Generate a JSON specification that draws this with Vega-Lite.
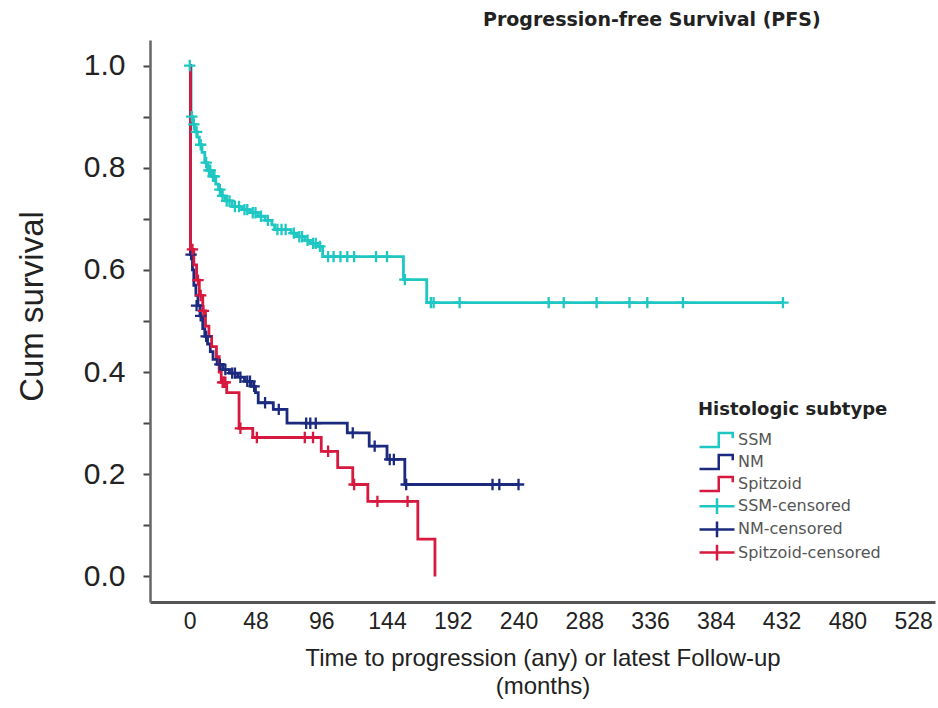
{
  "$schema": "https://vega.github.io/schema/vega-lite/v6.json",
  "width": 785,
  "height": 562,
  "autosize": {"type": "none"},
  "padding": {"left": 150, "top": 40, "right": 3, "bottom": 106},
  "background": "white",
  "config": {"view": {"stroke": null}},
  "title": {
    "text": "Progression-free Survival (PFS)",
    "anchor": "start",
    "frame": "group",
    "dx": 333,
    "dy": 17,
    "font": "DejaVu Sans",
    "fontSize": 19,
    "fontWeight": "bold",
    "color": "#222222",
    "baseline": "alphabetic",
    "offset": 12
  },
  "datasets": {
    "curves": [
      {"series": "SSM", "t": 0, "s": 1.0},
      {"series": "SSM", "t": 1, "s": 0.90},
      {"series": "SSM", "t": 2.5, "s": 0.885},
      {"series": "SSM", "t": 4, "s": 0.87},
      {"series": "SSM", "t": 5.5, "s": 0.86},
      {"series": "SSM", "t": 7, "s": 0.845},
      {"series": "SSM", "t": 9, "s": 0.83},
      {"series": "SSM", "t": 11, "s": 0.81},
      {"series": "SSM", "t": 13, "s": 0.795},
      {"series": "SSM", "t": 16, "s": 0.783},
      {"series": "SSM", "t": 19, "s": 0.768},
      {"series": "SSM", "t": 21, "s": 0.757},
      {"series": "SSM", "t": 23, "s": 0.745},
      {"series": "SSM", "t": 26, "s": 0.735},
      {"series": "SSM", "t": 31, "s": 0.724},
      {"series": "SSM", "t": 38, "s": 0.718},
      {"series": "SSM", "t": 44, "s": 0.712},
      {"series": "SSM", "t": 50, "s": 0.705},
      {"series": "SSM", "t": 55, "s": 0.697},
      {"series": "SSM", "t": 60, "s": 0.688},
      {"series": "SSM", "t": 62, "s": 0.679},
      {"series": "SSM", "t": 74, "s": 0.672},
      {"series": "SSM", "t": 78, "s": 0.665},
      {"series": "SSM", "t": 84, "s": 0.658},
      {"series": "SSM", "t": 88, "s": 0.652},
      {"series": "SSM", "t": 93, "s": 0.646},
      {"series": "SSM", "t": 97, "s": 0.626},
      {"series": "SSM", "t": 156, "s": 0.581},
      {"series": "SSM", "t": 173, "s": 0.536},
      {"series": "SSM", "t": 433, "s": 0.536},
      {"series": "NM", "t": 0, "s": 1.0},
      {"series": "NM", "t": 0.5, "s": 0.63},
      {"series": "NM", "t": 2, "s": 0.60},
      {"series": "NM", "t": 3, "s": 0.57},
      {"series": "NM", "t": 4.5, "s": 0.55},
      {"series": "NM", "t": 6, "s": 0.53},
      {"series": "NM", "t": 7.5, "s": 0.51},
      {"series": "NM", "t": 9.5, "s": 0.485},
      {"series": "NM", "t": 11, "s": 0.47},
      {"series": "NM", "t": 13, "s": 0.455},
      {"series": "NM", "t": 15, "s": 0.44},
      {"series": "NM", "t": 17, "s": 0.425},
      {"series": "NM", "t": 20, "s": 0.415},
      {"series": "NM", "t": 24, "s": 0.405},
      {"series": "NM", "t": 29, "s": 0.398},
      {"series": "NM", "t": 35, "s": 0.39},
      {"series": "NM", "t": 40, "s": 0.382},
      {"series": "NM", "t": 45, "s": 0.372},
      {"series": "NM", "t": 48, "s": 0.36},
      {"series": "NM", "t": 50, "s": 0.34},
      {"series": "NM", "t": 61, "s": 0.327},
      {"series": "NM", "t": 71, "s": 0.30},
      {"series": "NM", "t": 115, "s": 0.281},
      {"series": "NM", "t": 131, "s": 0.255},
      {"series": "NM", "t": 144, "s": 0.229},
      {"series": "NM", "t": 157, "s": 0.18},
      {"series": "NM", "t": 240, "s": 0.18},
      {"series": "Spitzoid", "t": 0, "s": 1.0},
      {"series": "Spitzoid", "t": 0.5, "s": 0.64},
      {"series": "Spitzoid", "t": 3, "s": 0.61},
      {"series": "Spitzoid", "t": 5, "s": 0.58},
      {"series": "Spitzoid", "t": 7, "s": 0.55},
      {"series": "Spitzoid", "t": 9.5, "s": 0.52},
      {"series": "Spitzoid", "t": 11.5, "s": 0.49},
      {"series": "Spitzoid", "t": 14, "s": 0.47},
      {"series": "Spitzoid", "t": 16, "s": 0.45},
      {"series": "Spitzoid", "t": 19.5, "s": 0.43},
      {"series": "Spitzoid", "t": 21.5, "s": 0.40},
      {"series": "Spitzoid", "t": 23, "s": 0.38},
      {"series": "Spitzoid", "t": 27, "s": 0.36},
      {"series": "Spitzoid", "t": 36, "s": 0.29},
      {"series": "Spitzoid", "t": 46, "s": 0.272},
      {"series": "Spitzoid", "t": 96, "s": 0.245},
      {"series": "Spitzoid", "t": 108, "s": 0.213},
      {"series": "Spitzoid", "t": 119, "s": 0.18},
      {"series": "Spitzoid", "t": 130, "s": 0.147},
      {"series": "Spitzoid", "t": 166.5, "s": 0.073},
      {"series": "Spitzoid", "t": 179, "s": 0.0}
    ],
    "censored": [
      {"series": "SSM-censored", "t": 0, "s": 1.0},
      {"series": "SSM-censored", "t": 1.5, "s": 0.9},
      {"series": "SSM-censored", "t": 3, "s": 0.885},
      {"series": "SSM-censored", "t": 5, "s": 0.87},
      {"series": "SSM-censored", "t": 8, "s": 0.845},
      {"series": "SSM-censored", "t": 12, "s": 0.81},
      {"series": "SSM-censored", "t": 14, "s": 0.795},
      {"series": "SSM-censored", "t": 15, "s": 0.795},
      {"series": "SSM-censored", "t": 17, "s": 0.783},
      {"series": "SSM-censored", "t": 18, "s": 0.783},
      {"series": "SSM-censored", "t": 22, "s": 0.757},
      {"series": "SSM-censored", "t": 24, "s": 0.745},
      {"series": "SSM-censored", "t": 27, "s": 0.735},
      {"series": "SSM-censored", "t": 29, "s": 0.735},
      {"series": "SSM-censored", "t": 33, "s": 0.724},
      {"series": "SSM-censored", "t": 36, "s": 0.724},
      {"series": "SSM-censored", "t": 40, "s": 0.718},
      {"series": "SSM-censored", "t": 42, "s": 0.718},
      {"series": "SSM-censored", "t": 46, "s": 0.712},
      {"series": "SSM-censored", "t": 48, "s": 0.712},
      {"series": "SSM-censored", "t": 52, "s": 0.705},
      {"series": "SSM-censored", "t": 57, "s": 0.697},
      {"series": "SSM-censored", "t": 64, "s": 0.679},
      {"series": "SSM-censored", "t": 67, "s": 0.679},
      {"series": "SSM-censored", "t": 70, "s": 0.679},
      {"series": "SSM-censored", "t": 76, "s": 0.672},
      {"series": "SSM-censored", "t": 80, "s": 0.665},
      {"series": "SSM-censored", "t": 82, "s": 0.665},
      {"series": "SSM-censored", "t": 86, "s": 0.658},
      {"series": "SSM-censored", "t": 90, "s": 0.652},
      {"series": "SSM-censored", "t": 92, "s": 0.652},
      {"series": "SSM-censored", "t": 95, "s": 0.646},
      {"series": "SSM-censored", "t": 101, "s": 0.626},
      {"series": "SSM-censored", "t": 105, "s": 0.626},
      {"series": "SSM-censored", "t": 110, "s": 0.626},
      {"series": "SSM-censored", "t": 115, "s": 0.626},
      {"series": "SSM-censored", "t": 120, "s": 0.626},
      {"series": "SSM-censored", "t": 136, "s": 0.626},
      {"series": "SSM-censored", "t": 144, "s": 0.626},
      {"series": "SSM-censored", "t": 157, "s": 0.581},
      {"series": "SSM-censored", "t": 176, "s": 0.536},
      {"series": "SSM-censored", "t": 178, "s": 0.536},
      {"series": "SSM-censored", "t": 197, "s": 0.536},
      {"series": "SSM-censored", "t": 262, "s": 0.536},
      {"series": "SSM-censored", "t": 273, "s": 0.536},
      {"series": "SSM-censored", "t": 297, "s": 0.536},
      {"series": "SSM-censored", "t": 321, "s": 0.536},
      {"series": "SSM-censored", "t": 334, "s": 0.536},
      {"series": "SSM-censored", "t": 360, "s": 0.536},
      {"series": "SSM-censored", "t": 433, "s": 0.536},
      {"series": "NM-censored", "t": 1, "s": 0.63},
      {"series": "NM-censored", "t": 5, "s": 0.53},
      {"series": "NM-censored", "t": 8, "s": 0.51},
      {"series": "NM-censored", "t": 12, "s": 0.47},
      {"series": "NM-censored", "t": 22, "s": 0.415},
      {"series": "NM-censored", "t": 26, "s": 0.405},
      {"series": "NM-censored", "t": 31, "s": 0.398},
      {"series": "NM-censored", "t": 33, "s": 0.398},
      {"series": "NM-censored", "t": 37, "s": 0.39},
      {"series": "NM-censored", "t": 42, "s": 0.382},
      {"series": "NM-censored", "t": 44, "s": 0.382},
      {"series": "NM-censored", "t": 47, "s": 0.372},
      {"series": "NM-censored", "t": 55, "s": 0.34},
      {"series": "NM-censored", "t": 65, "s": 0.327},
      {"series": "NM-censored", "t": 85, "s": 0.30},
      {"series": "NM-censored", "t": 88, "s": 0.30},
      {"series": "NM-censored", "t": 92, "s": 0.30},
      {"series": "NM-censored", "t": 119, "s": 0.281},
      {"series": "NM-censored", "t": 135, "s": 0.255},
      {"series": "NM-censored", "t": 146, "s": 0.229},
      {"series": "NM-censored", "t": 149, "s": 0.229},
      {"series": "NM-censored", "t": 158, "s": 0.18},
      {"series": "NM-censored", "t": 221, "s": 0.18},
      {"series": "NM-censored", "t": 226, "s": 0.18},
      {"series": "NM-censored", "t": 240, "s": 0.18},
      {"series": "Spitzoid-censored", "t": 2, "s": 0.64},
      {"series": "Spitzoid-censored", "t": 6, "s": 0.58},
      {"series": "Spitzoid-censored", "t": 8, "s": 0.55},
      {"series": "Spitzoid-censored", "t": 10, "s": 0.52},
      {"series": "Spitzoid-censored", "t": 24, "s": 0.38},
      {"series": "Spitzoid-censored", "t": 25, "s": 0.38},
      {"series": "Spitzoid-censored", "t": 26, "s": 0.38},
      {"series": "Spitzoid-censored", "t": 37, "s": 0.29},
      {"series": "Spitzoid-censored", "t": 49, "s": 0.272},
      {"series": "Spitzoid-censored", "t": 84, "s": 0.272},
      {"series": "Spitzoid-censored", "t": 90, "s": 0.272},
      {"series": "Spitzoid-censored", "t": 101, "s": 0.245},
      {"series": "Spitzoid-censored", "t": 120, "s": 0.18},
      {"series": "Spitzoid-censored", "t": 137, "s": 0.147},
      {"series": "Spitzoid-censored", "t": 159, "s": 0.147}
    ]
  },
  "encoding": {
    "x": {
      "field": "t",
      "type": "quantitative",
      "scale": {"domain": [-29, 544], "nice": false, "zero": false},
      "axis": {
        "values": [0, 48, 96, 144, 192, 240, 288, 336, 384, 432, 480, 528],
        "ticks": false,
        "grid": false,
        "domainColor": "#555555",
        "domainWidth": 3,
        "labelFont": "Liberation Sans",
        "labelFontSize": 23,
        "labelColor": "#222222",
        "labelPadding": 8,
        "labelFlush": false,
        "labelOverlap": false,
        "title": ["Time to progression (any) or latest Follow-up", "(months)"],
        "titleFont": "Liberation Sans",
        "titleFontSize": 24,
        "titleFontWeight": "normal",
        "titleColor": "#222222",
        "titlePadding": 13,
        "titleLineHeight": 28
      }
    },
    "y": {
      "field": "s",
      "type": "quantitative",
      "scale": {"domain": [-0.05, 1.05], "nice": false, "zero": false},
      "axis": {
        "values": [0, 0.1, 0.2, 0.3, 0.4, 0.5, 0.6, 0.7, 0.8, 0.9, 1.0],
        "labelExpr": "round(datum.value * 10) % 2 == 0 ? format(datum.value, '.1f') : ''",
        "grid": false,
        "domainColor": "#666666",
        "domainWidth": 2.5,
        "tickColor": "#444444",
        "tickWidth": 2,
        "tickSize": 7,
        "labelFont": "Liberation Sans",
        "labelFontSize": 30,
        "labelColor": "#222222",
        "labelPadding": 18,
        "labelOverlap": false,
        "title": "Cum survival",
        "titleFont": "Liberation Sans",
        "titleFontSize": 33,
        "titleFontWeight": "normal",
        "titleColor": "#222222",
        "titlePadding": 34,
        "titleY": 266
      }
    },
    "color": {
      "field": "series",
      "type": "nominal",
      "scale": {
        "domain": ["SSM", "NM", "Spitzoid", "SSM-censored", "NM-censored", "Spitzoid-censored"],
        "range": ["#1FC7C3", "#1B2A7E", "#D7193F", "#1FC7C3", "#1B2A7E", "#D7193F"]
      },
      "legend": {
        "title": "Histologic subtype",
        "orient": "none",
        "legendX": 548,
        "legendY": 361,
        "titleFont": "DejaVu Sans",
        "titleFontSize": 18,
        "titleFontWeight": "bold",
        "titleColor": "#222222",
        "titleLimit": 400,
        "titlePadding": 11,
        "labelFont": "DejaVu Sans",
        "labelFontSize": 16,
        "labelColor": "#555555",
        "labelLimit": 300,
        "symbolSize": 306,
        "symbolStrokeWidth": 2.5,
        "rowPadding": -2.8,
        "labelOffset": 11,
        "symbolOffset": 9,
        "encode": {
          "symbols": {
            "update": {
              "shape": {"signal": "indexof(['SSM','NM','Spitzoid'], datum.value) >= 0 ? 'M-2,0.8L0.2,0.8L0.2,-0.8L1.8,-0.8L1.8,-0.2' : 'M-2,0L2,0M0,-0.9L0,0.9'"},
              "fill": {"value": "transparent"},
              "stroke": {"scale": "color", "field": "value"},
              "strokeWidth": {"value": 2.5},
              "size": {"value": 306},
              "opacity": {"value": 1}
            }
          }
        }
      }
    }
  },
  "layer": [
    {
      "data": {"name": "curves"},
      "mark": {"type": "line", "interpolate": "step-after", "strokeWidth": 2.8}
    },
    {
      "data": {"name": "censored"},
      "mark": {"type": "point", "shape": "M-1,0L1,0M0,-1L0,1", "filled": false, "size": 130, "strokeWidth": 2.3, "opacity": 1}
    }
  ]
}
